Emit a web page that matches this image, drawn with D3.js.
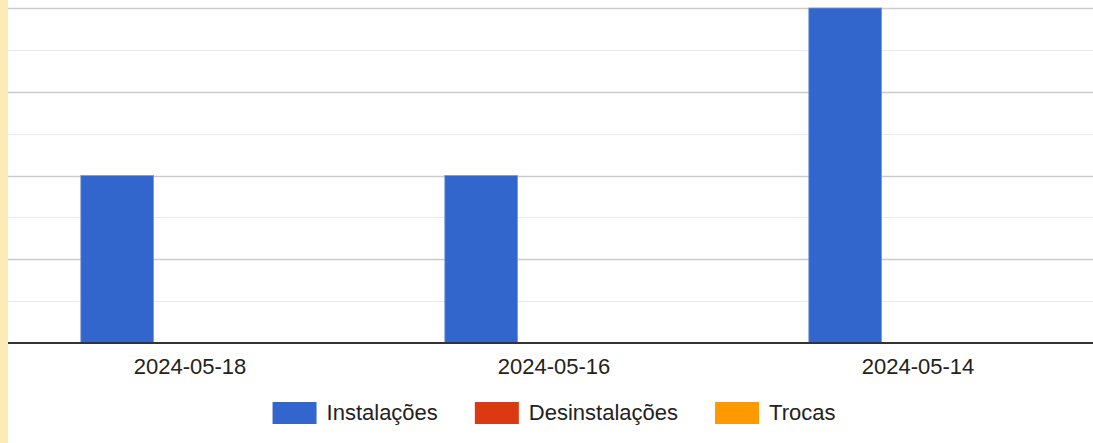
<!DOCTYPE html>
<html>
<head>
<meta charset="utf-8">
<script src="https://cdn.jsdelivr.net/npm/d3@7"></script>
<style>
  html, body { margin: 0; padding: 0; background: #ffffff; }
  svg { display: block; }
</style>
</head>
<body>
<svg id="chart" width="1093" height="443"></svg>
<script>
// Daily counts per operation type
const categories = ["2024-05-18", "2024-05-16", "2024-05-14"];
const seriesNames = ["Instalações", "Desinstalações", "Trocas"];
const instalacoes = [2, 2, 4];
const desinstalacoes = [0, 0, 0];
const trocas = [0, 0, 0];
const seriesColors = ["#3366cc", "#dc3912", "#ff9900"];
const majorTicks = [0, 1, 2, 3, 4];
const minorTicks = [0.5, 1.5, 2.5, 3.5];

const seriesValues = [instalacoes, desinstalacoes, trocas];

const W = 1093, H = 443;
const svg = d3.select("#chart");
const font = "Arial, 'Liberation Sans', sans-serif";

// Left accent strip
svg.append("rect").attr("x", 0).attr("y", 0).attr("width", 8).attr("height", H)
  .attr("fill", "#fcebb7");

const plotLeft = 8, plotRight = 1100, plotTop = 8, plotBottom = 343;

const x = d3.scaleBand().domain(categories).range([plotLeft, plotRight]).padding(0);
const groupWidth = x.bandwidth() * 0.6;
const xSub = d3.scaleBand().domain(seriesNames).range([0, groupWidth]).padding(0);
const y = d3.scaleLinear().domain([0, 4]).range([plotBottom, plotTop]);

// Gridlines
svg.append("g").selectAll("line").data(minorTicks).join("line")
  .attr("x1", plotLeft).attr("x2", W)
  .attr("y1", d => Math.round(y(d)) + 0.5).attr("y2", d => Math.round(y(d)) + 0.5)
  .attr("stroke", "#ebebeb").attr("stroke-width", 1);
svg.append("g").selectAll("line").data(majorTicks.filter(d => d > 0)).join("line")
  .attr("x1", plotLeft).attr("x2", W)
  .attr("y1", d => Math.round(y(d)) + 0.5).attr("y2", d => Math.round(y(d)) + 0.5)
  .attr("stroke", "#cccccc").attr("stroke-width", 1.5);

// Bars
const rows = [];
categories.forEach((c, i) => {
  seriesNames.forEach((s, j) => {
    rows.push({ cat: c, series: s, value: seriesValues[j][i], color: seriesColors[j] });
  });
});

svg.append("g").selectAll("rect").data(rows.filter(d => d.value > 0)).join("rect")
  .attr("x", d => x(d.cat) + (x.bandwidth() - groupWidth) / 2 + xSub(d.series))
  .attr("y", d => y(d.value))
  .attr("width", xSub.bandwidth())
  .attr("height", d => y(0) - y(d.value))
  .attr("fill", d => d.color)
  .attr("stroke", "#7a98dc").attr("stroke-width", 0.8);

// Baseline
svg.append("line").attr("x1", plotLeft).attr("x2", W)
  .attr("y1", y(0)).attr("y2", y(0))
  .attr("stroke", "#333333").attr("stroke-width", 2);

// Category labels
svg.append("g").selectAll("text").data(categories).join("text")
  .attr("x", d => x(d) + x.bandwidth() / 2)
  .attr("y", 374)
  .attr("text-anchor", "middle")
  .attr("font-family", font).attr("font-size", 22)
  .attr("fill", "#222222")
  .text(d => d);

// Legend
const legend = svg.append("g");
const swW = 44, swH = 22, gapText = 10, gapItem = 37;
const items = seriesNames.map((name, i) => {
  const g = legend.append("g");
  g.append("rect").attr("width", swW).attr("height", swH).attr("y", 402)
    .attr("fill", seriesColors[i]);
  const t = g.append("text").attr("x", swW + gapText).attr("y", 420)
    .attr("font-family", font).attr("font-size", 22).attr("fill", "#222222")
    .text(name);
  return { g, w: swW + gapText + t.node().getComputedTextLength() };
});
const totalW = d3.sum(items, d => d.w) + gapItem * (items.length - 1);
let cx = (plotLeft + plotRight) / 2 - totalW / 2;
items.forEach(it => {
  it.g.attr("transform", `translate(${cx},0)`);
  cx += it.w + gapItem;
});
</script>
</body>
</html>
